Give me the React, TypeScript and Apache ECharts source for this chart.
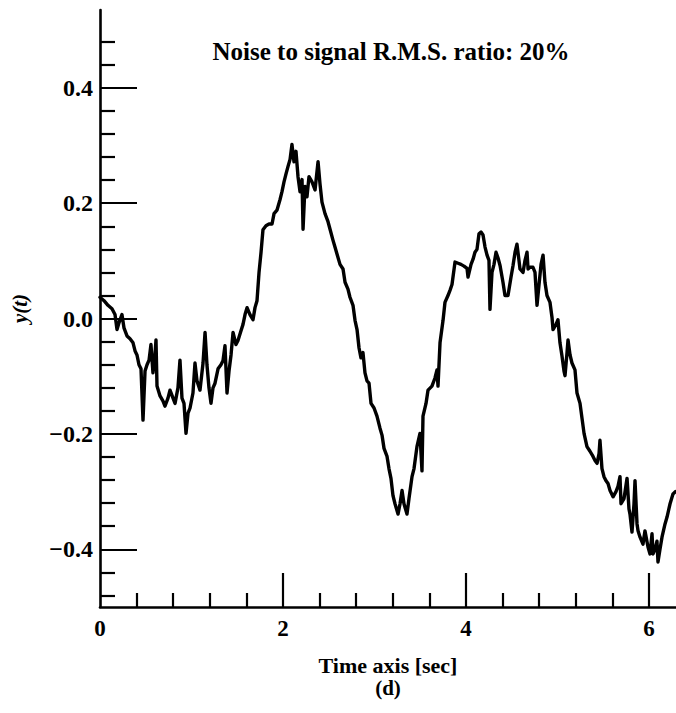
import React, { useEffect, useRef } from "react";
import * as echarts from "echarts";

const times = [
  0.0, 0.044, 0.087, 0.131, 0.164, 0.186, 0.208, 0.24, 0.262, 0.295,
  0.328, 0.361, 0.383, 0.404, 0.426, 0.448, 0.47, 0.492, 0.514, 0.536,
  0.557, 0.579, 0.601, 0.612, 0.623, 0.656, 0.689, 0.71, 0.743, 0.765,
  0.798, 0.82, 0.852, 0.874, 0.896, 0.918, 0.94, 0.962, 0.984, 1.016,
  1.038, 1.06, 1.093, 1.126, 1.148, 1.169, 1.191, 1.213, 1.235, 1.257,
  1.29, 1.322, 1.344, 1.366, 1.388, 1.41, 1.432, 1.454, 1.486, 1.508,
  1.541, 1.563, 1.585, 1.607, 1.639, 1.672, 1.694, 1.716, 1.738, 1.76,
  1.781, 1.814, 1.847, 1.88, 1.902, 1.934, 1.967, 1.989, 2.011, 2.033,
  2.055, 2.077, 2.098, 2.12, 2.142, 2.164, 2.186, 2.208, 2.219, 2.24,
  2.262, 2.284, 2.317, 2.35, 2.383, 2.404, 2.426, 2.459, 2.492, 2.514,
  2.546, 2.568, 2.59, 2.623, 2.656, 2.678, 2.71, 2.732, 2.765, 2.787,
  2.809, 2.831, 2.852, 2.874, 2.896, 2.918, 2.94, 2.962, 2.995, 3.027,
  3.06, 3.082, 3.104, 3.137, 3.158, 3.18, 3.202, 3.224, 3.257, 3.279,
  3.301, 3.322, 3.355, 3.377, 3.41, 3.432, 3.464, 3.497, 3.519, 3.53,
  3.563, 3.585, 3.628, 3.661, 3.683, 3.694, 3.716, 3.749, 3.77, 3.803,
  3.825, 3.847, 3.88, 3.913, 3.945, 3.978, 4.011, 4.022, 4.055, 4.077,
  4.098, 4.12, 4.142, 4.164, 4.186, 4.208, 4.23, 4.251, 4.262, 4.284,
  4.306, 4.328, 4.35, 4.372, 4.404, 4.426, 4.459, 4.492, 4.514, 4.536,
  4.557, 4.579, 4.59, 4.623, 4.645, 4.667, 4.678, 4.699, 4.732, 4.754,
  4.776, 4.798, 4.82, 4.842, 4.863, 4.885, 4.918, 4.94, 4.951, 4.984,
  5.005, 5.027, 5.049, 5.071, 5.082, 5.104, 5.115, 5.137, 5.158, 5.191,
  5.213, 5.246, 5.268, 5.29, 5.322, 5.355, 5.388, 5.41, 5.432, 5.454,
  5.464, 5.486, 5.508, 5.53, 5.552, 5.574, 5.607, 5.639, 5.661, 5.683,
  5.694, 5.727, 5.76, 5.781, 5.792, 5.814, 5.836, 5.847, 5.869, 5.88,
  5.902, 5.934, 5.956, 5.989, 6.011, 6.033, 6.044, 6.066, 6.087, 6.098,
  6.12, 6.142, 6.175, 6.197, 6.23, 6.262, 6.29
];

const values = [
  0.037, 0.031, 0.023, 0.017, 0.007, -0.019, -0.007, 0.007, -0.016, -0.03,
  -0.035, -0.042, -0.056, -0.063, -0.08, -0.087, -0.176, -0.091, -0.08, -0.072,
  -0.045, -0.094, -0.063, -0.037, -0.117, -0.134, -0.143, -0.152, -0.138, -0.124,
  -0.138, -0.147, -0.12, -0.072, -0.138, -0.147, -0.199, -0.164, -0.155, -0.129,
  -0.077, -0.108, -0.124, -0.077, -0.024, -0.08, -0.12, -0.147, -0.12, -0.112,
  -0.087, -0.08, -0.073, -0.047, -0.129, -0.091, -0.063, -0.024, -0.045, -0.038,
  -0.021, -0.01, 0.007, 0.019, 0.007, -0.002, 0.019, 0.031, 0.08, 0.115,
  0.154, 0.161, 0.164, 0.164, 0.182, 0.188, 0.206, 0.22, 0.237, 0.251,
  0.264, 0.276, 0.302, 0.272, 0.29, 0.246, 0.22, 0.241, 0.155, 0.229,
  0.211, 0.246, 0.237, 0.223, 0.272, 0.234, 0.202, 0.182, 0.168, 0.155,
  0.136, 0.124, 0.112, 0.094, 0.086, 0.063, 0.051, 0.037, 0.023, -0.003,
  -0.019, -0.051, -0.068, -0.059, -0.094, -0.108, -0.112, -0.147, -0.155, -0.169,
  -0.19, -0.202, -0.225, -0.239, -0.26, -0.277, -0.307, -0.321, -0.339, -0.321,
  -0.298, -0.321, -0.339, -0.312, -0.274, -0.26, -0.222, -0.199, -0.264, -0.169,
  -0.147, -0.124, -0.117, -0.103, -0.089, -0.117, -0.042, -0.003, 0.028, 0.04,
  0.049, 0.059, 0.098, 0.096, 0.094, 0.091, 0.087, 0.072, 0.094, 0.103,
  0.115, 0.12, 0.147, 0.15, 0.145, 0.124, 0.11, 0.101, 0.016, 0.08,
  0.094, 0.115, 0.105, 0.092, 0.063, 0.04, 0.04, 0.072, 0.092, 0.115,
  0.129, 0.101, 0.086, 0.08, 0.101, 0.115, 0.086, 0.089, 0.089, 0.08,
  0.023, 0.059, 0.094, 0.11, 0.063, 0.04, 0.028, 0.002, -0.019, -0.01,
  -0.002, -0.042, -0.065, -0.091, -0.099, -0.059, -0.037, -0.063, -0.077, -0.089,
  -0.129, -0.147, -0.173, -0.199, -0.222, -0.23, -0.239, -0.246, -0.251, -0.234,
  -0.211, -0.26, -0.274, -0.281, -0.286, -0.298, -0.309, -0.3, -0.291, -0.274,
  -0.321, -0.312, -0.277, -0.33, -0.339, -0.37, -0.321, -0.281, -0.356, -0.368,
  -0.379, -0.391, -0.368, -0.396, -0.408, -0.373, -0.408, -0.4, -0.386, -0.422,
  -0.4, -0.379, -0.356, -0.344, -0.321, -0.304, -0.3
];

const xLabelValues = [0, 2, 4, 6];
const xMajorTicks = [2, 4, 6];
const xMinorTicks = [0.4, 0.8, 1.2, 1.6, 2.4, 2.8, 3.2, 3.6, 4.4, 4.8, 5.2, 5.6];
const yLabelValues = [-0.4, -0.2, 0, 0.2, 0.4];
const yMinorTicks = [
  -0.48, -0.44, -0.36, -0.32, -0.28, -0.24, -0.16, -0.12, -0.08, -0.04,
  0.04, 0.08, 0.12, 0.16, 0.24, 0.28, 0.32, 0.36, 0.44, 0.48
];

const titleText = "Noise to signal R.M.S. ratio: 20%";
const xName = "Time axis [sec]";
const panelLabel = "(d)";
const yName = "y(t)";

const X_MIN = 0;
const X_MAX = 6.295;
const Y_MIN = -0.5;
const Y_MAX = 0.535;

const SERIF = '"Liberation Serif", "DejaVu Serif", serif';

export default function App() {
  const ref = useRef<HTMLDivElement>(null);

  useEffect(() => {
    if (!ref.current) return;
    const chart = echarts.init(ref.current, undefined, { renderer: "svg" });
    const data = times.map((t, i) => [t, values[i]]);
    const black = "#000";

    const baseAxis = {
      type: "value" as const,
      splitLine: { show: false },
    };

    chart.setOption({
      animation: false,
      backgroundColor: "#fff",
      title: {
        text: titleText,
        left: 386,
        top: 34,
        textAlign: "center",
        textStyle: { fontFamily: SERIF, fontSize: 25, fontWeight: "bold", color: black },
      },
      graphic: [
        {
          type: "text",
          x: 388,
          y: 688,
          style: {
            text: panelLabel,
            font: 'bold 21px "Liberation Serif", serif',
            fill: black,
            align: "center",
            verticalAlign: "middle",
            textAlign: "center",
            textVerticalAlign: "middle",
          },
        },
      ],
      grid: { left: 100, top: 10, width: 576, height: 597, containLabel: false },
      xAxis: [
        {
          ...baseAxis,
          min: X_MIN,
          max: X_MAX,
          position: "bottom",
          name: xName,
          nameLocation: "middle",
          nameGap: 47,
          nameTextStyle: { fontFamily: SERIF, fontSize: 22, fontWeight: "bold", color: black, lineHeight: 22 },
          axisLine: { show: true, onZero: false, lineStyle: { color: black, width: 2.6 } },
          axisTick: { show: true, inside: true, length: 14, customValues: xMinorTicks, lineStyle: { color: black, width: 2.2 } },
          axisLabel: {
            show: true,
            customValues: xLabelValues,
            margin: 10,
            fontFamily: SERIF,
            fontSize: 23,
            fontWeight: "bold",
            color: black,
            formatter: (v: number) => String(v),
          },
        },
        {
          ...baseAxis,
          min: X_MIN,
          max: X_MAX,
          position: "bottom",
          axisLine: { show: false, onZero: false },
          axisTick: { show: true, inside: true, length: 34, customValues: xMajorTicks, lineStyle: { color: black, width: 2.2 } },
          axisLabel: { show: false },
        },
      ],
      yAxis: [
        {
          ...baseAxis,
          min: Y_MIN,
          max: Y_MAX,
          position: "left",
          name: yName,
          nameLocation: "middle",
          nameGap: 70,
          nameTextStyle: { fontFamily: SERIF, fontSize: 21, fontStyle: "italic", fontWeight: "bold", color: black },
          axisLine: { show: true, onZero: false, lineStyle: { color: black, width: 2.6 } },
          axisTick: { show: true, inside: true, length: 15, customValues: yMinorTicks, lineStyle: { color: black, width: 2.2 } },
          axisLabel: {
            show: true,
            customValues: yLabelValues,
            margin: 7,
            fontFamily: SERIF,
            fontSize: 24,
            fontWeight: "bold",
            color: black,
            formatter: (v: number) => (v < 0 ? "\u2212" + Math.abs(v).toFixed(1) : v.toFixed(1)),
          },
        },
        {
          ...baseAxis,
          min: Y_MIN,
          max: Y_MAX,
          position: "left",
          axisLine: { show: false, onZero: false },
          axisTick: { show: true, inside: true, length: 37, customValues: yLabelValues, lineStyle: { color: black, width: 2.2 } },
          axisLabel: { show: false },
        },
      ],
      series: [
        {
          type: "line",
          data,
          xAxisIndex: 0,
          yAxisIndex: 0,
          showSymbol: false,
          symbol: "none",
          lineStyle: { color: black, width: 3.4, join: "round", cap: "round" },
          clip: true,
        },
      ],
    });

    return () => chart.dispose();
  }, []);

  return (
    <div
      ref={ref}
      style={{ position: "absolute", left: 0, top: 0, width: 676, height: 713, background: "#fff" }}
    />
  );
}
